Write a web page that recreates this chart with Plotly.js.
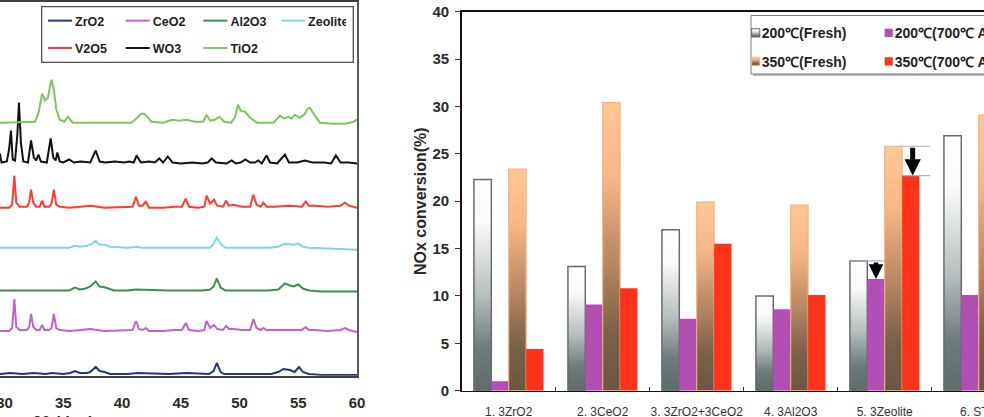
<!DOCTYPE html>
<html><head><meta charset="utf-8">
<script src="https://cdn.plot.ly/plotly-3.0.1.min.js"></script>
<style>
html,body{margin:0;padding:0;overflow:hidden;background:#fff;width:984px;height:417px;position:relative;}
#chart{position:absolute;left:-240px;top:0;width:1340px;height:440px;}
</style></head><body><div id="chart"></div>
<script>
// ---------- XRD patterns (2θ in degrees, intensity in arbitrary units above each baseline) ----------
const seriesNames = ['ZrO2','CeO2','Al2O3','Zeolite','V2O5','WO3','TiO2'];
const seriesOffsets = [1.7, 44.7, 85.2, 128, 168, 212.2, 253];

const zro2_2theta = [29.6,30.5,31.5,32.5,33.5,34.0,35.0,35.6,36.0,36.4,37.0,37.3,37.76,38.1,38.5,39.0,40.5,41.3,44.0,45.5,47.4,47.8,48.06,48.4,48.7,50.0,52.7,53.3,53.73,54.3,54.7,55.06,55.4,55.9,57.0,60];
const zro2_int    = [0,1,0,1,0,1,0,1,3,1,1,2,7,3,2,0,0,1,0,1,0,3,11,2,0,0,0,2,5,4,2,7,2,0,-1,-1];

const ceo2_2theta = [29.6,30.4,30.65,30.84,31.0,31.3,31.9,32.1,32.26,32.45,32.7,33.0,33.2,33.4,33.8,34.0,34.2,34.4,34.7,35.5,36.5,37.3,38.5,40.0,40.9,41.19,41.45,41.75,42.02,42.3,43.5,44.5,45.1,45.42,45.7,46.5,47.0,47.2,47.5,47.83,48.1,48.6,48.85,49.1,49.5,50.2,50.9,51.18,51.45,51.8,52.03,52.3,53.0,54.2,55.3,55.63,55.9,56.4,57.5,58.6,58.98,59.3,60];
const ceo2_int    = [0,0,3,32,4,1,1,4,17,4,1,1,6,1,1,3,17,3,1,0,1,2,0,1,1,10,2,1,3,0,0,1,1,8,1,0,1,10,3,6,2,1,5,2,2,1,1,12,3,1,3,1,1,1,1,4,1,1,0,1,3,1,-1];

const al2o3_2theta = [29.6,33.0,35.5,36.0,36.4,36.9,37.3,37.76,38.1,38.6,39.3,40.5,41.2,44.0,46.8,47.5,47.8,48.06,48.4,48.8,49.5,52.5,53.3,53.87,54.3,54.6,55.0,55.4,55.9,57.0,60];
const al2o3_int    = [0,0,0,3,1,2,4,9,4,3,0,0,1,0,0,1,4,12,3,0,0,0,1,7,5,4,6,2,0,-1,-1];

const zeolite_2theta = [29.6,35.5,36.0,36.4,37.0,37.3,37.76,38.1,38.5,39.0,40.5,41.2,41.8,46.8,47.5,47.8,48.06,48.4,48.8,52.5,53.3,53.87,54.3,54.6,55.0,55.4,55.9,58.0,60];
const zeolite_int    = [0,0,2,1,2,3,7,3,3,1,0,1,0,0,0,4,10,4,0,0,1,4,3,3,4,1,0,-1,-2];

const v2o5_2theta = [29.6,30.4,30.65,30.84,31.0,31.3,31.9,32.1,32.26,32.45,32.7,33.0,33.2,33.4,33.8,34.0,34.2,34.4,34.7,35.5,36.5,37.3,38.5,40.0,40.9,41.19,41.45,41.75,42.02,42.3,43.5,44.5,45.1,45.42,45.7,46.5,47.0,47.2,47.5,47.83,48.1,48.6,48.85,49.1,49.5,50.2,50.9,51.18,51.45,51.8,52.03,52.3,53.0,54.2,55.3,55.63,55.9,56.4,57.5,58.6,58.98,59.3,60];
const v2o5_int    = [0,0,3,32,5,1,1,5,18,5,1,1,7,1,1,4,18,3,1,0,1,2,0,1,1,11,2,2,6,0,0,1,1,9,1,0,1,12,4,8,2,1,7,2,3,1,1,13,3,1,5,1,1,2,1,6,2,2,1,2,5,2,0];

const wo3_2theta = [29.6,29.75,30.2,30.4,30.55,30.7,30.9,31.1,31.23,31.4,31.6,32.0,32.26,32.5,32.7,32.88,33.1,33.6,33.93,34.15,34.35,34.5,34.7,35.0,35.5,35.9,36.5,37.3,37.76,38.1,38.6,39.4,40.2,40.6,41.0,41.25,41.6,42.3,42.8,43.17,43.5,43.9,44.3,45.0,46.0,46.8,47.3,47.63,48.0,48.9,49.33,49.7,50.1,50.5,50.9,51.3,51.6,51.9,52.3,52.6,53.2,53.87,54.2,54.9,55.57,56.2,57.2,57.8,58.2,58.6,59.3,60];
const wo3_int    = [10,1,2,15,33,4,3,30,61,20,2,1,23,6,3,9,2,1,25,6,3,11,2,1,4,1,2,1,13,2,1,2,1,2,1,8,1,2,1,5,1,7,1,0,1,0,1,5,1,0,3,0,1,4,1,1,3,0,8,1,0,9,1,1,3,1,1,0,8,1,1,0];

const tio2_2theta = [29.6,32.6,32.9,33.1,33.2,33.45,33.7,33.9,34.0,34.2,34.4,34.7,35.1,35.4,35.8,40.8,41.3,41.6,41.9,42.2,42.5,43.5,44.3,44.8,45.5,46.2,46.9,47.2,47.5,47.9,48.3,48.7,49.3,49.6,49.87,50.1,50.47,50.9,51.5,52.9,53.45,53.8,54.15,54.4,54.7,55.1,55.5,55.8,56.0,56.3,56.85,58.0,59.0,59.7,60];
const tio2_int    = [0,1,10,24,29,22,25,38,43,33,14,3,1,6,0,0,5,9,9,5,1,0,3,2,3,1,1,8,2,3,6,1,0,5,18,12,11,5,0,0,7,4,6,4,8,5,8,14,15,9,0,-1,-1,1,3];

const xrd2theta = [zro2_2theta, ceo2_2theta, al2o3_2theta, zeolite_2theta, v2o5_2theta, wo3_2theta, tio2_2theta];
const xrdInt    = [zro2_int, ceo2_int, al2o3_int, zeolite_int, v2o5_int, wo3_int, tio2_int];
const xrdColors = ['#27357A','#C262C8','#3E8E4E','#80D6E0','#FF3A2E','#111111','#7CC660'];
const xrdLegend = ['legend3','legend3','legend3','legend3','legend4','legend4','legend4'];
const xrdTicks = [10,15,20,25,30,35,40,45,50,55,60];

// ---------- NOx conversion bars ----------
const catalysts = ['1. 3ZrO2','2. 3CeO2','3. 3ZrO2+3CeO2','4. 3Al2O3','5. 3Zeolite','6. STD'];
const fresh200 = [22.3, 13.1, 17.0, 10.0, 13.7, 26.9];
const aged200  = [1.0, 9.1, 7.6, 8.6, 11.8, 10.1];
const fresh350 = [23.4, 30.4, 19.9, 19.6, 25.8, 29.1];
const aged350  = [4.4, 10.8, 15.5, 10.1, 22.7, 24.0];
const barNames = ['200℃(Fresh)','200℃(700℃ Aged)','350℃(Fresh)','350℃(700℃ Aged)'];
const yTicks = [0,5,10,15,20,25,30,35,40];

// ---------- geometry helpers (screen px -> paper fraction) ----------
const W = 1340, H = 440, SHIFT = 240;
const fx = px => (px + SHIFT) / W;
const fy = py => 1 - py / H;

const SANS = "'Liberation Sans',Arial,sans-serif";

const traces = [];
seriesNames.forEach((n, i) => {
  traces.push({
    type: 'scatter', mode: 'lines', name: n,
    x: xrd2theta[i],
    y: xrdInt[i].map(v => v + seriesOffsets[i]),
    xaxis: 'x', yaxis: 'y',
    line: {color: xrdColors[i], width: 2},
    legend: xrdLegend[i], hoverinfo: 'skip'
  });
});

const barData = [fresh200, aged200, fresh350, aged350];
const barColors = ['#d0d4d4', '#B24FB3', '#d9a070', '#FF3319'];
const barLines = [{color:'#6a6a6a', width:1.5}, {color:'#B24FB3', width:0}, {color:'#F8B070', width:1.1}, {color:'#FF3319', width:0}];
const barLegend = ['legend','legend','legend2','legend2'];
barData.forEach((vals, i) => {
  traces.push({
    type: 'bar', name: barNames[i], x: catalysts, y: vals,
    xaxis: 'x2', yaxis: 'y2',
    marker: {color: barColors[i], line: barLines[i]},
    legend: barLegend[i], hoverinfo: 'skip'
  });
});

// bar geometry in category units (bargap 0.26, 4 bars)
const BARGAP = 0.26, NB = 4, BW = (1 - BARGAP) / NB;
const barCenter = (cat, k) => cat - (1 - BARGAP) / 2 + BW * (k + 0.5);
const zi = 4; // 3Zeolite index

const shapes = [
  {type:'rect', xref:'paper', yref:'paper', x0:fx(41.7), x1:fx(353.3), y0:fy(62.3), y1:fy(6.7), line:{color:'#505050', width:1.3}, fillcolor:'rgba(255,255,255,0)'},
  {type:'rect', xref:'paper', yref:'paper', x0:fx(753), x1:fx(1040), y0:fy(76), y1:fy(17.5), line:{width:0}, fillcolor:'#bdbdbd'},
  {type:'rect', xref:'paper', yref:'paper', x0:fx(751), x1:fx(1038), y0:fy(74), y1:fy(15.5), line:{color:'#7a7a7a', width:1}, fillcolor:'#ffffff'},
  {type:'line', xref:'x2', yref:'y2', x0:barCenter(zi,0)-BW/2, x1:barCenter(zi,1)+BW/2, y0:fresh200[zi], y1:fresh200[zi], line:{color:'#a9a9d8', width:1.2}},
  {type:'line', xref:'x2', yref:'y2', x0:barCenter(zi,3)-BW/2, x1:barCenter(zi,3)+BW/2+0.11, y0:fresh350[zi], y1:fresh350[zi], line:{color:'#a9a9d8', width:1.2}},
  {type:'line', xref:'x2', yref:'y2', x0:barCenter(zi,3)-BW/2, x1:barCenter(zi,3)+BW/2+0.11, y0:aged350[zi], y1:aged350[zi], line:{color:'#a9a9d8', width:1.2}}
];

const annotations = [
  {xref:'x2', yref:'y2', axref:'x2', ayref:'y2', x:barCenter(zi,1), y:aged200[zi], ax:barCenter(zi,1), ay:fresh200[zi],
   showarrow:true, arrowhead:2, arrowsize:0.65, arrowwidth:4.5, arrowcolor:'#000', standoff:0, startstandoff:0, text:''},
  {xref:'x2', yref:'y2', axref:'x2', ayref:'y2', x:barCenter(zi,3)+0.02, y:aged350[zi], ax:barCenter(zi,3)+0.02, ay:fresh350[zi],
   showarrow:true, arrowhead:2, arrowsize:0.65, arrowwidth:5, arrowcolor:'#000', standoff:0, startstandoff:0, text:''}
];

const layout = {
  width: W, height: H,
  margin: {l:0, r:0, t:0, b:0},
  paper_bgcolor: '#fff', plot_bgcolor: 'rgba(0,0,0,0)',
  font: {family: SANS, color:'#222'},
  barmode: 'group', bargap: BARGAP, bargroupgap: 0,
  xaxis: {
    domain: [fx(-230.5), fx(357)], range: [10, 60], anchor:'y',
    tickvals: xrdTicks, ticks:'', ticklabelstandoff: 12,
    tickfont: {family: SANS, size: 15, color:'#2a2a2a', weight: 'bold'},
    showline: true, linecolor:'#3c3c3c', linewidth: 2, mirror: true,
    showgrid: false, zeroline: false,
    title: {text: '2θ (deg)', font: {family: SANS, size: 16, color:'#2a2a2a', weight:'bold'}, standoff: 7}
  },
  yaxis: {
    domain: [fy(375.7), fy(2)], range: [0, 373.7], anchor:'x',
    showticklabels: false, ticks: '', showgrid: false, zeroline: false,
    showline: true, linecolor:'#5a5a5a', linewidth: 2, mirror: true
  },
  xaxis2: {
    domain: [fx(461.7), fx(1025.7)], anchor:'y2', type:'category',
    ticks:'inside', tickson:'boundaries', ticklen: 4, tickcolor:'#333', tickwidth: 1,
    tickangle: 0, ticklabelstandoff: 9,
    tickfont: {family: SANS, size: 12, color:'#333'},
    showline: true, linecolor:'#111', linewidth: 1.6, mirror: true,
    showgrid: false, zeroline: false
  },
  yaxis2: {
    domain: [fy(390.7), fy(11.7)], anchor:'x2', range: [0, 40],
    tickvals: yTicks, ticks:'outside', ticklen: 5, tickcolor:'#333', tickwidth: 1,
    ticklabelstandoff: 3,
    tickfont: {family: SANS, size: 15, color:'#2a2a2a', weight:'bold'},
    showline: true, linecolor:'#111', linewidth: 1.6, mirror: true,
    showgrid: false, zeroline: false,
    title: {text: 'NOx conversion(%)', font: {family: SANS, size: 16, color:'#2a2a2a', weight:'bold'}, standoff: 2}
  },
  legend: {x: fx(721.7), xanchor:'left', y: fy(33.3), yanchor:'middle', orientation:'h',
    entrywidth: 88, bgcolor:'rgba(0,0,0,0)', borderwidth:0,
    font: {family: SANS, size: 14, color:'#222', weight:'bold'}},
  legend2: {x: fx(721.7), xanchor:'left', y: fy(61.7), yanchor:'middle', orientation:'h',
    entrywidth: 88, bgcolor:'rgba(0,0,0,0)', borderwidth:0,
    font: {family: SANS, size: 14, color:'#222', weight:'bold'}},
  legend3: {x: fx(35), xanchor:'left', y: fy(21), yanchor:'middle', orientation:'h',
    entrywidth: 32.7, bgcolor:'rgba(0,0,0,0)', borderwidth:0,
    font: {family: SANS, size: 12.5, color:'#222', weight:'bold'}},
  legend4: {x: fx(35), xanchor:'left', y: fy(48.3), yanchor:'middle', orientation:'h',
    entrywidth: 32.7, bgcolor:'rgba(0,0,0,0)', borderwidth:0,
    font: {family: SANS, size: 12.5, color:'#222', weight:'bold'}},
  shapes: shapes,
  annotations: annotations
};

Plotly.newPlot('chart', traces, layout, {staticPlot: true, displayModeBar: false}).then(gd => {
  const NS = 'http://www.w3.org/2000/svg';
  const svg = gd.querySelector('svg.main-svg');
  let defs = svg.querySelector('defs');
  if (!defs) { defs = document.createElementNS(NS, 'defs'); svg.insertBefore(defs, svg.firstChild); }
  function grad(id, stops) {
    const g = document.createElementNS(NS, 'linearGradient');
    g.setAttribute('id', id);
    g.setAttribute('x1', '0'); g.setAttribute('y1', '0'); g.setAttribute('x2', '0'); g.setAttribute('y2', '1');
    stops.forEach(([o, c]) => {
      const s = document.createElementNS(NS, 'stop');
      s.setAttribute('offset', o); s.setAttribute('stop-color', c);
      g.appendChild(s);
    });
    defs.appendChild(g);
  }
  grad('gradGray', [[0, '#ffffff'], [0.2, '#fbfbfb'], [0.55, '#b5bdbd'], [0.8, '#6f7c7c'], [1, '#5e6b6b']]);
  grad('gradOrange', [[0, '#FFC894'], [0.25, '#F6B886'], [0.55, '#B88763'], [0.8, '#7A6148'], [1, '#6C5643']]);
  const fillFor = {};
  fillFor[barNames[0]] = 'url(#gradGray)';
  fillFor[barNames[2]] = 'url(#gradOrange)';
  gd.querySelectorAll('.barlayer .trace').forEach(t => {
    const d = t.__data__; const tr = d && d[0] && d[0].trace;
    if (tr && fillFor[tr.name]) t.querySelectorAll('path').forEach(p => { p.style.fill = fillFor[tr.name]; });
  });
  document.querySelectorAll('g.traces').forEach(t => {
    const d = t.__data__; const tr = d && d[0] && d[0].trace;
    if (!tr) return;
    t.querySelectorAll('.legendpoints path, .legendlines path').forEach(p => {
      const prev = p.getAttribute('transform') || '';
      if (tr.type === 'bar') {
        p.setAttribute('transform', prev + ' translate(14,0) scale(0.68)');
        if (fillFor[tr.name]) p.style.fill = fillFor[tr.name];
      } else {
        p.setAttribute('transform', prev + ' translate(9,0) scale(0.8,1)');
      }
    });
  });
});
</script></body></html>
